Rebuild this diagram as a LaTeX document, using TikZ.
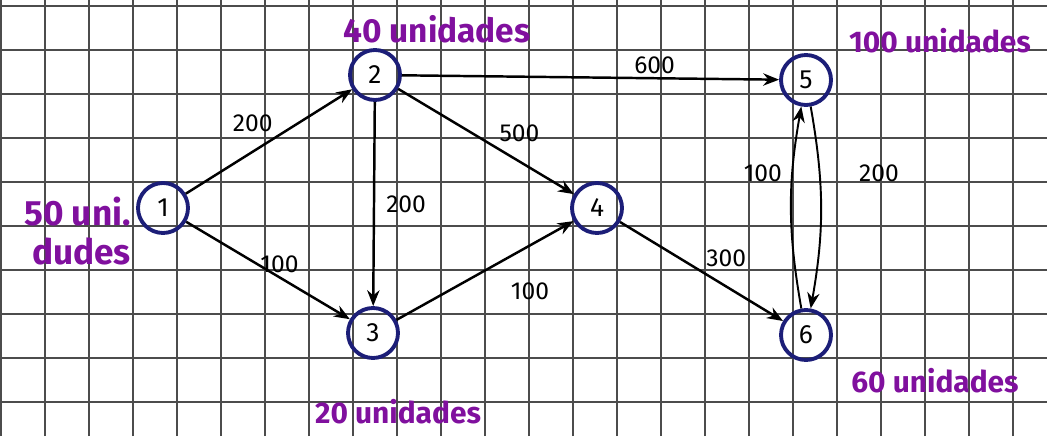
\documentclass[tikz,border=0pt]{standalone}
\usepackage{fontspec}
\setsansfont{Fira Sans}
\usetikzlibrary{arrows.meta,positioning}
\definecolor{tinta}{RGB}{128,16,158}
\definecolor{azul}{RGB}{28,30,120}
\begin{document}
\begin{tikzpicture}[
	nodo/.style={circle,draw=azul,line width=2.2pt,minimum size=1cm,inner sep=0pt,font=\sffamily\fontsize{15}{15}\selectfont},
	arco/.style={line width=1.4pt,-{Stealth[length=9pt,width=7pt]}},
	peso/.style={font=\sffamily\fontsize{14}{14}\selectfont,inner sep=2pt},
	etiq/.style={text=tinta,font=\sffamily\bfseries\fontsize{19}{22}\selectfont,inner sep=0pt},
	etiqb/.style={etiq,font=\sffamily\bfseries\fontsize{17}{17}\selectfont},
	rejilla/.style={black!70,line width=0.8pt}]
	\useasboundingbox (0,0) rectangle (20.94,8.72);
	% grid paper
	\foreach \i in {0,...,23}
		\draw[rejilla] (0.02+0.88*\i,0) -- ++(0,8.72);
	\foreach \j in {0,...,9}
		\draw[rejilla] (0,8.6-0.88*\j) -- ++(20.94,0);
	% nodes
	\node[nodo] (n1) at (3.26,4.56) {1};
	\node[nodo] (n2) at (7.50,7.22) {2};
	\node[nodo] (n3) at (7.46,2.06) {3};
	\node[nodo] (n4) at (11.94,4.56) {4};
	\node[nodo] (n5) at (16.12,7.12) {5};
	\node[nodo] (n6) at (16.12,2.02) {6};
	% arcs
	\draw[arco] (n1) -- (n2) node[peso,pos=0.55,above left=0cm] {200};
	\draw[arco] (n1) -- (n3) node[peso,pos=0.57,above] {100};
	\draw[arco] (n2) -- (n5) node[peso,pos=0.67,above] {600};
	\draw[arco] (n2) -- (n4) node[peso,pos=0.55,above right] {500};
	\draw[arco] (n2) -- (n3) node[peso,midway,right=0.15cm] {200};
	\draw[arco] (n3) -- (n4) node[peso,pos=0.55,below right=0.35cm] {100};
	\draw[arco] (n4) -- (n6) node[peso,pos=0.5,above right] {300};
	\draw[arco,line width=1.1pt] (n6) to[bend left=10] node[peso,pos=0.68,left=0.12cm] {100} (n5);
	\draw[arco,line width=1.1pt] (n5) to[bend left=10] node[peso,pos=0.32,right=0.7cm] {200} (n6);
	% supplies and demands
	\node[etiq,align=right,anchor=east,font=\sffamily\bfseries\fontsize{20}{22}\selectfont] (of1) at ([xshift=-0.1cm,yshift=-0.46cm]n1.west) {50 uni.\\dudes};
	\node[etiq] (of2) at ([xshift=1.24cm,yshift=0.92cm]n2.center) {40 unidades};
	\node[etiqb] (de3) at ([xshift=0.5cm,yshift=-1.58cm]n3.center) {20 unidades};
	\node[etiqb] (de5) at ([xshift=2.68cm,yshift=0.78cm]n5.center) {100 unidades};
	\node[etiqb] (de6) at ([xshift=2.58cm,yshift=-0.92cm]n6.center) {60 unidades};
\end{tikzpicture}
\end{document}
